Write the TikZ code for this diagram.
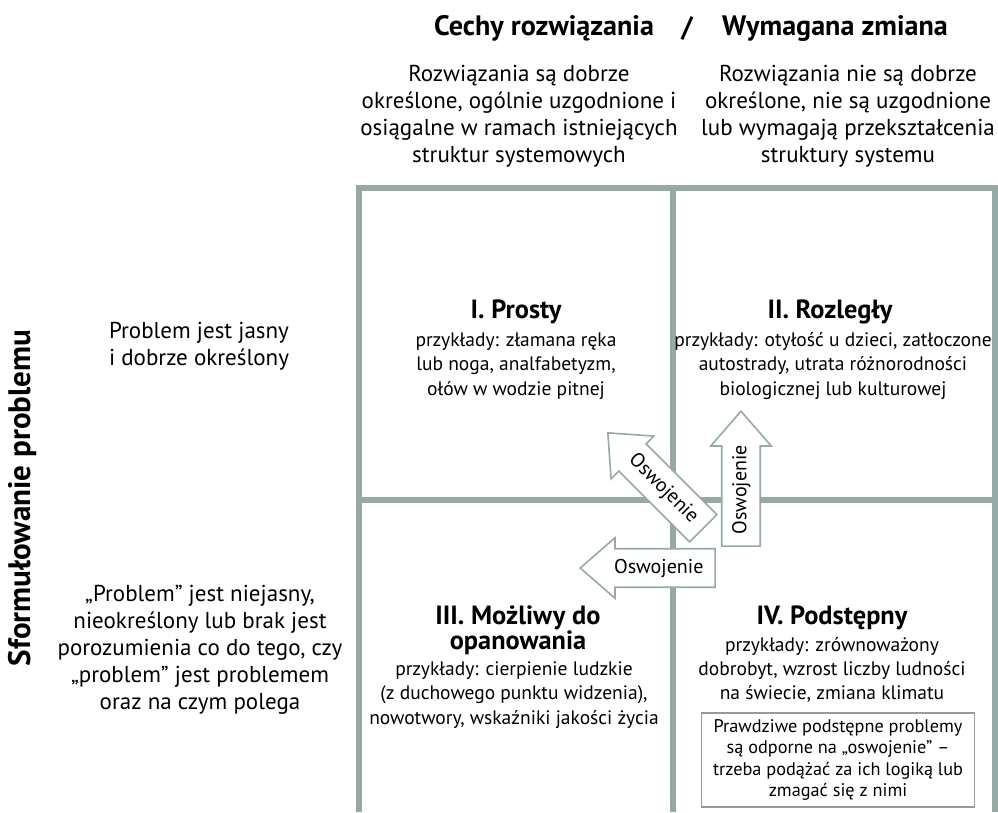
\documentclass[tikz,border=0pt]{standalone}
\usepackage{fontspec}
\setmainfont{PT Sans}
\usetikzlibrary{shapes.arrows}
\definecolor{gridgray}{HTML}{97A9A4}
\newcommand\bodysize{\fontsize{13.1}{15.3}\selectfont}
\tikzset{
  gridline/.style={draw=gridgray, line width=3.4pt},
  plain/.style={align=center, inner sep=0pt, font=\bodysize},
  example/.style={align=center, inner sep=0pt, font=\fontsize{11.1}{13.8}\selectfont},
  heading/.style={align=center, inner sep=0pt, font=\fontsize{15}{14.2}\bfseries},
  tamearrow/.style={single arrow, draw=gridgray, fill=white, line width=0.9pt,
    minimum height=2.7cm, single arrow head extend=0.22cm, single arrow tip angle=82,
    text height=8.5pt, text depth=2.5pt, inner ysep=5pt, inner xsep=4pt,
    font=\fontsize{11.4}{14}\selectfont},
}

\begin{document}
\begin{tikzpicture}[x=0.02cm, y=-0.02cm]
\useasboundingbox (0,0) rectangle (998,812);
\draw[gridline] (359,812) -- (359,188) -- (995,188) -- (995,812);
\draw[gridline] (673,188) -- (673,812);
\draw[gridline] (359,500) -- (995,500);

\node[font=\fontsize{16}{18}\bfseries] (crit) at (544,28) {Cechy rozwiązania};
\node[font=\fontsize{16}{18}\bfseries] (slash) at (687,28) {/};
\node[font=\fontsize{16}{18}\bfseries] (change) at (835,28) {Wymagana zmiana};

\node[plain] (colA) at (519,116) {Rozwiązania są dobrze\\określone, ogólnie uzgodnione i\\osiągalne w ramach istniejących\\struktur systemowych};
\node[plain] (colB) at (848,116) {Rozwiązania nie są dobrze\\określone, nie są uzgodnione\\lub wymagają przekształcenia\\struktury systemu};

\node[rotate=90, font=\fontsize{17.7}{20}\bfseries] (rowtitle) at (23,498) {Sformułowanie problemu};
\node[plain] (rowA) at (199,346) {Problem jest jasny\\i dobrze określony};
\node[plain] (rowB) at (200,650) {„Problem” jest niejasny,\\nieokreślony lub brak jest\\porozumienia co do tego, czy\\„problem” jest problemem\\oraz na czym polega};

\node[heading] (q1title) at (516,312) {I. Prosty};
\node[example] (q1body) at (516,366) {przykłady: złamana ręka\\lub noga, analfabetyzm,\\ołów w wodzie pitnej};
\node[heading] (q2title) at (830,312) {II. Rozległy};
\node[example] (q2body) at (833,366) {przykłady: otyłość u dzieci, zatłoczone\\autostrady, utrata różnorodności\\biologicznej lub kulturowej};
\node[heading] (q3title) at (518,630) {III. Możliwy do\\opanowania};
\node[example] (q3body) at (514,695) {przykłady: cierpienie ludzkie\\(z duchowego punktu widzenia),\\nowotwory, wskaźniki jakości życia};
\node[heading] (q4title) at (832,618) {IV. Podstępny};
\node[example] (q4body) at (832,670) {przykłady: zrównoważony\\dobrobyt, wzrost liczby ludności\\na świecie, zmiana klimatu};
\node[draw=gray!80, line width=0.8pt, align=center, minimum width=5.46cm, minimum height=1.88cm, inner sep=2pt,
  font=\fontsize{10.4}{12.2}\selectfont] (note) at (838,760) {Prawdziwe podstępne problemy\\są odporne na „oswojenie” –\\trzeba podążać za ich logiką lub\\zmagać się z nimi};

\node[tamearrow, shape border rotate=180, anchor=tip] (tameleft) at (579,568) {Oswojenie};
\node[tamearrow, rotate=90, anchor=tip] (tameup) at (741,410) {Oswojenie};
\node[tamearrow, rotate=-45, shape border rotate=180, anchor=tip] (tamediag) at (607,432) {Oswojenie};
\end{tikzpicture}
\end{document}
